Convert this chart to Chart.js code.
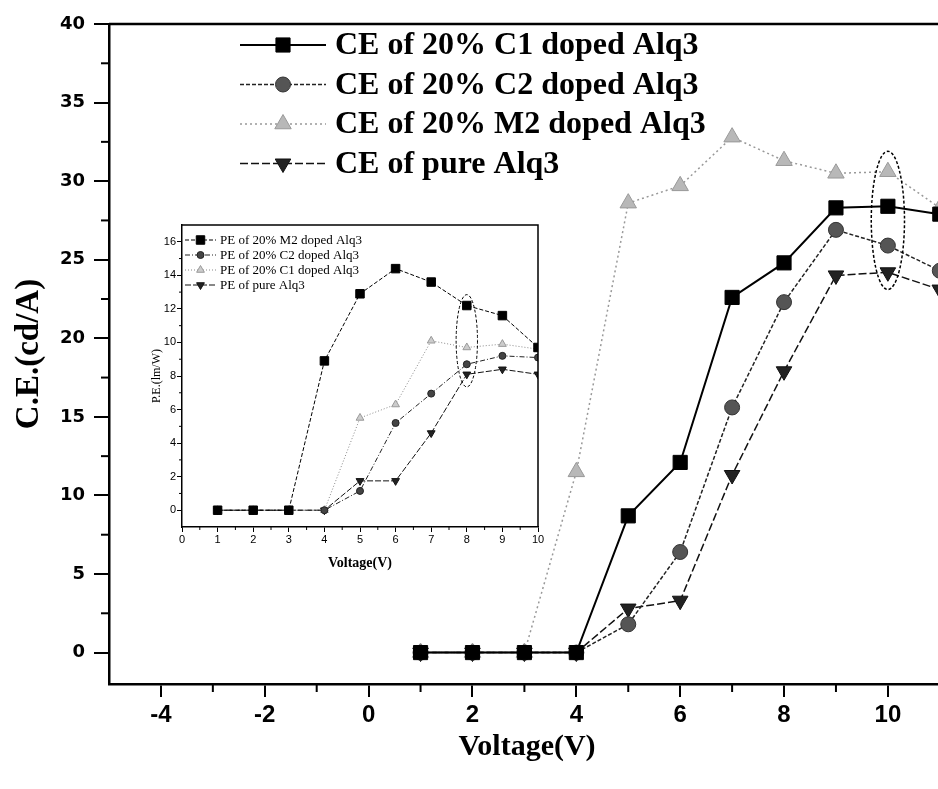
<!DOCTYPE html>
<html>
<head>
<meta charset="utf-8">
<script src="https://cdn.jsdelivr.net/npm/chart.js@4.4.1/dist/chart.umd.min.js"></script>
<style>
  html, body { margin: 0; padding: 0; background: #fff; overflow: hidden; }
  #wrap { position: relative; width: 938px; height: 789px; overflow: hidden; background: #fff; }
  #main { position: absolute; left: 0; top: 0; }
  #inset { position: absolute; left: 130px; top: 200px; }
</style>
</head>
<body>
<div id="wrap">
  <canvas id="main" width="956" height="789"></canvas>
  <canvas id="inset" width="420" height="380"></canvas>
</div>
<script>
// main plot: current efficiency vs voltage
const voltage = [1, 2, 3, 4, 5, 6, 7, 8, 9, 10, 11];
const ceC1 = [0, 0, 0, 0, 8.7, 12.1, 22.6, 24.8, 28.3, 28.4, 27.9];
const ceC2 = [0, 0, 0, 0, 1.8, 6.4, 15.6, 22.3, 26.9, 25.9, 24.3];
const ceM2 = [0, 0, 0, 11.5, 28.6, 29.7, 32.8, 31.3, 30.5, 30.6, 28.3];
const cePure = [0, 0, 0, 0, 2.8, 3.3, 11.3, 17.9, 24.0, 24.2, 23.1];
const xTicks = [-4, -2, 0, 2, 4, 6, 8, 10];
const yTicks = [0, 5, 10, 15, 20, 25, 30, 35, 40];

// inset: power efficiency vs voltage
const insetVoltage = [1, 2, 3, 4, 5, 6, 7, 8, 9, 10];
const peM2 = [0, 0, 0, 8.9, 12.9, 14.4, 13.6, 12.2, 11.6, 9.7];
const peC2 = [0, 0, 0, 0, 1.15, 5.2, 6.95, 8.7, 9.2, 9.1];
const peC1 = [0, 0, 0, 0, 5.5, 6.3, 10.1, 9.7, 9.9, 9.6];
const pePure = [0, 0, 0, 0, 1.75, 1.75, 4.6, 8.1, 8.4, 8.1];
const insetXTicks = [0, 1, 2, 3, 4, 5, 6, 7, 8, 9, 10];
const insetYTicks = [0, 2, 4, 6, 8, 10, 12, 14, 16];

const pts = (xs, ys) => xs.map((x, i) => ({x: x, y: ys[i]}));

// line + marker legend drawn on the canvas
const lineLegend = {
  id: 'lineLegend',
  afterDraw(chart, args, o) {
    const ctx = chart.ctx;
    chart.data.datasets.forEach((ds, i) => {
      const y = o.top + i * o.gap;
      ctx.save();
      ctx.strokeStyle = ds.borderColor;
      ctx.lineWidth = ds.borderWidth;
      ctx.setLineDash(ds.borderDash || []);
      ctx.beginPath();
      ctx.moveTo(o.x0, y);
      ctx.lineTo(o.x1, y);
      ctx.stroke();
      ctx.setLineDash([]);
      ctx.fillStyle = ds.pointBackgroundColor;
      ctx.strokeStyle = ds.pointBorderColor;
      ctx.lineWidth = ds.pointBorderWidth;
      Chart.helpers.drawPoint(ctx, {
        pointStyle: ds.pointStyle, rotation: ds.pointRotation || 0,
        radius: ds.pointRadius, borderWidth: ds.pointBorderWidth
      }, (o.x0 + o.x1) / 2, y);
      ctx.fillStyle = '#000';
      ctx.font = o.font;
      ctx.textBaseline = 'middle';
      ctx.fillText(ds.label, o.textX, y + 1);
      ctx.restore();
    });
  }
};

// frame, minor ticks and the dashed ellipse
const decor = {
  id: 'decor',
  afterDraw(chart, args, o) {
    const {ctx, chartArea: a, scales: {x, y}} = chart;
    ctx.save();
    ctx.strokeStyle = '#000';
    ctx.lineWidth = o.frame;
    ctx.beginPath();
    ctx.moveTo(a.left, a.top);
    ctx.lineTo(a.right, a.top);
    ctx.lineTo(a.right, a.bottom);
    ctx.stroke();
    ctx.lineWidth = o.minorWidth;
    o.minorX.forEach(v => {
      const px = x.getPixelForValue(v);
      ctx.beginPath();
      ctx.moveTo(px, a.bottom);
      ctx.lineTo(px, a.bottom + o.minorLen);
      ctx.stroke();
    });
    o.minorY.forEach(v => {
      const py = y.getPixelForValue(v);
      ctx.beginPath();
      ctx.moveTo(a.left, py);
      ctx.lineTo(a.left - o.minorLen, py);
      ctx.stroke();
    });
    const e = o.ellipse;
    const cx = x.getPixelForValue(e.x), cy = y.getPixelForValue(e.y);
    const rx = x.getPixelForValue(e.x + e.dx) - cx;
    const ry = cy - y.getPixelForValue(e.y + e.dy);
    ctx.lineWidth = o.ellipseWidth;
    ctx.setLineDash([3, 2]);
    ctx.beginPath();
    ctx.ellipse(cx, cy, rx, ry, 0, 0, Math.PI * 2);
    ctx.stroke();
    ctx.restore();
  }
};

new Chart(document.getElementById('main'), {
  type: 'line',
  data: {
    datasets: [
      { label: 'CE of 20% C1 doped Alq3', data: pts(voltage, ceC1),
        borderColor: '#000', borderWidth: 2, borderDash: [],
        pointStyle: 'rect', pointRadius: 10, pointBackgroundColor: '#000',
        pointBorderColor: '#000', pointBorderWidth: 1 },
      { label: 'CE of 20% C2 doped Alq3', data: pts(voltage, ceC2),
        borderColor: '#222', borderWidth: 1.5, borderDash: [4, 2],
        pointStyle: 'circle', pointRadius: 7.5, pointBackgroundColor: '#555',
        pointBorderColor: '#333', pointBorderWidth: 1 },
      { label: 'CE of 20% M2 doped Alq3', data: pts(voltage, ceM2),
        borderColor: '#999', borderWidth: 1.5, borderDash: [2, 3],
        pointStyle: 'triangle', pointRadius: 9.5, pointBackgroundColor: '#b8b8b8',
        pointBorderColor: '#999', pointBorderWidth: 1 },
      { label: 'CE of pure Alq3', data: pts(voltage, cePure),
        borderColor: '#111', borderWidth: 1.5, borderDash: [8, 3],
        pointStyle: 'triangle', pointRotation: 180, pointRadius: 9, pointBackgroundColor: '#222',
        pointBorderColor: '#111', pointBorderWidth: 1 }
    ]
  },
  options: {
    responsive: false,
    animation: false,
    devicePixelRatio: 1,
    layout: { padding: { left: 0, top: 24, right: 2, bottom: 0 } },
    elements: { line: { tension: 0 } },
    plugins: {
      legend: { display: false },
      tooltip: { enabled: false },
      lineLegend: { x0: 240, x1: 326, textX: 335, top: 45, gap: 39.5,
        font: 'bold 32px "Liberation Serif", "Times New Roman", serif' },
      decor: { frame: 2.5, minorWidth: 2, minorLen: 8,
        minorX: [-3, -1, 1, 3, 5, 7, 9, 11],
        minorY: [2.5, 7.5, 12.5, 17.5, 22.5, 27.5, 32.5, 37.5],
        ellipse: { x: 10, y: 27.5, dx: 0.32, dy: 4.4 }, ellipseWidth: 1.5 }
    },
    scales: {
      x: {
        type: 'linear', min: -5, max: 11.1,
        afterBuildTicks: s => { s.ticks = xTicks.map(v => ({value: v})); },
        afterFit: s => { s.height = 105; },
        border: { display: true, color: '#000', width: 2.5 },
        grid: { display: true, drawOnChartArea: false, color: '#000', lineWidth: 2, tickLength: 13 },
        ticks: { color: '#000', padding: 4, maxRotation: 0, autoSkip: false,
          font: { family: '"Liberation Sans", Arial, sans-serif', weight: 'bold', size: 24 } },
        title: { display: true, text: 'Voltage(V)', color: '#000',
          font: { family: '"Liberation Serif", "Times New Roman", serif', weight: 'bold', size: 30 },
          padding: { top: 0, bottom: 24 } }
      },
      y: {
        type: 'linear', min: -2, max: 40,
        afterBuildTicks: s => { s.ticks = yTicks.map(v => ({value: v})); },
        afterFit: s => { s.width = 109; },
        border: { display: true, color: '#000', width: 2.5 },
        grid: { display: true, drawOnChartArea: false, color: '#000', lineWidth: 2, tickLength: 15 },
        ticks: { color: '#000', padding: 9, autoSkip: false,
          font: { family: '"DejaVu Sans", sans-serif', weight: 'bold', size: 18 } },
        title: { display: true, text: 'C.E.(cd/A)', color: '#000',
          font: { family: '"Liberation Serif", "Times New Roman", serif', weight: 'bold', size: 33 },
          padding: { top: 10, bottom: 0 } }
      }
    }
  },
  plugins: [lineLegend, decor]
});

new Chart(document.getElementById('inset'), {
  type: 'line',
  data: {
    datasets: [
      { label: 'PE of 20% M2 doped Alq3', data: pts(insetVoltage, peM2),
        borderColor: '#000', borderWidth: 1, borderDash: [4, 2],
        pointStyle: 'rect', pointRadius: 6, pointBackgroundColor: '#000',
        pointBorderColor: '#000', pointBorderWidth: 1 },
      { label: 'PE of 20% C2 doped Alq3', data: pts(insetVoltage, peC2),
        borderColor: '#222', borderWidth: 1, borderDash: [5, 2, 1, 2],
        pointStyle: 'circle', pointRadius: 3.5, pointBackgroundColor: '#444',
        pointBorderColor: '#222', pointBorderWidth: 1 },
      { label: 'PE of 20% C1 doped Alq3', data: pts(insetVoltage, peC1),
        borderColor: '#888', borderWidth: 1, borderDash: [1, 2],
        pointStyle: 'triangle', pointRadius: 4.5, pointBackgroundColor: '#ccc',
        pointBorderColor: '#999', pointBorderWidth: 1 },
      { label: 'PE of pure Alq3', data: pts(insetVoltage, pePure),
        borderColor: '#111', borderWidth: 1, borderDash: [6, 2],
        pointStyle: 'triangle', pointRotation: 180, pointRadius: 4.5, pointBackgroundColor: '#222',
        pointBorderColor: '#111', pointBorderWidth: 1 }
    ]
  },
  options: {
    responsive: false,
    animation: false,
    devicePixelRatio: 1,
    layout: { padding: { left: 0, top: 25, right: 12, bottom: 0 } },
    elements: { line: { tension: 0 } },
    plugins: {
      legend: { display: false },
      tooltip: { enabled: false },
      lineLegend: { x0: 55, x1: 86, textX: 90, top: 40, gap: 15,
        font: '13px "Liberation Serif", "Times New Roman", serif' },
      decor: { frame: 1.5, minorWidth: 1, minorLen: 3,
        minorX: [0.5, 1.5, 2.5, 3.5, 4.5, 5.5, 6.5, 7.5, 8.5, 9.5],
        minorY: [1, 3, 5, 7, 9, 11, 13, 15],
        ellipse: { x: 8, y: 10.1, dx: 0.3, dy: 2.75 }, ellipseWidth: 1 }
    },
    scales: {
      x: {
        type: 'linear', min: 0, max: 10,
        afterBuildTicks: s => { s.ticks = insetXTicks.map(v => ({value: v})); },
        afterFit: s => { s.height = 53; },
        border: { display: true, color: '#000', width: 1.5 },
        grid: { display: true, drawOnChartArea: false, color: '#000', lineWidth: 1, tickLength: 5 },
        ticks: { color: '#000', padding: 1, maxRotation: 0, autoSkip: false,
          font: { family: '"Liberation Sans", Arial, sans-serif', size: 11 } },
        title: { display: true, text: 'Voltage(V)', color: '#000',
          font: { family: '"Liberation Serif", "Times New Roman", serif', weight: 'bold', size: 14 },
          padding: { top: 0, bottom: 8 } }
      },
      y: {
        type: 'linear', min: -1, max: 17,
        afterBuildTicks: s => { s.ticks = insetYTicks.map(v => ({value: v})); },
        afterFit: s => { s.width = 52; },
        border: { display: true, color: '#000', width: 1.5 },
        grid: { display: true, drawOnChartArea: false, color: '#000', lineWidth: 1, tickLength: 5 },
        ticks: { color: '#000', padding: 1, autoSkip: false,
          font: { family: '"Liberation Sans", Arial, sans-serif', size: 11 } },
        title: { display: true, text: 'P.E.(lm/W)', color: '#000',
          font: { family: '"Liberation Serif", "Times New Roman", serif', size: 12 },
          padding: { top: 20, bottom: 0 } }
      }
    }
  },
  plugins: [lineLegend, decor]
});
</script>
</body>
</html>
